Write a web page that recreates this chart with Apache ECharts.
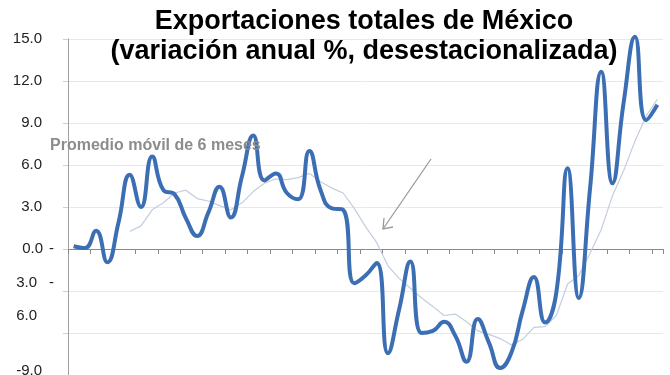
<!DOCTYPE html>
<html>
<head>
<meta charset="utf-8">
<script src="https://cdn.jsdelivr.net/npm/echarts@6/dist/echarts.min.js"></script>
<style>
  html, body { margin: 0; padding: 0; background: #fff; }
  #chart { width: 670px; height: 375px; }
</style>
</head>
<body>
<div id="chart"></div>
<script>
// periodos (las etiquetas del eje no se leen en el original)
var periods = ['1', '2', '3', '4', '5', '6', '7', '8', '9', '10', '11', '12', '13', '14', '15', '16', '17', '18',
  '19', '20', '21', '22', '23', '24', '25', '26', '27', '28', '29', '30', '31', '32', '33', '34', '35', '36',
  '37', '38', '39', '40', '41', '42', '43', '44', '45', '46', '47', '48', '49', '50', '51', '52', '53'];

// variación anual %, serie principal
var exportsYoY = [0.2, 0.07, 1.3, -0.95, 1.9, 5.3, 3.0, 6.6, 4.2, 3.9,
  2.2, 0.93, 2.6, 4.45, 2.25, 5.2, 8.1, 4.9, 5.4, 4.0,
  3.55, 7.0, 4.2, 2.9, 2.8, -2.45, -1.9, -1.0, -7.45, -4.3,
  -0.9, -6.0, -5.85, -5.2, -6.2, -8.05, -5.0, -6.7, -8.5, -7.4,
  -4.4, -2.0, -5.25, -3.1, 5.76, -3.5, 4.3, 12.66, 4.7, 10.5,
  15.16, 9.2, 10.3];

// promedio móvil de 6 meses
var movingAvg6 = [null, null, null, null, null, 1.25, 1.65, 2.8, 3.3, 4.0,
  4.2, 3.6, 3.43, 3.1, 2.8, 3.3, 4.1, 4.7, 5.0, 4.95,
  5.1, 5.4, 4.8, 4.35, 4.0, 2.9, 1.6, 0.45, -1.2, -2.1,
  -2.8, -3.5, -4.1, -4.75, -4.65, -5.2, -5.85, -6.1, -6.4, -6.85,
  -6.45, -5.6, -5.55, -4.75, -2.5, -1.9, -0.3, 1.4, 3.8, 5.6,
  7.7, 9.5, 10.7];

// etiquetas del eje Y tal como aparecen (con guiones fuera de lugar)
var yTickValues = [15, 12, 9, 6, 3, 0, -3, -6, -9];
var yTickTexts = ['15.0', '12.0', '9.0', '6.0', '3.0', '0.0', '3.0', '6.0', '-9.0'];

var FONT = '"Liberation Sans", Arial, sans-serif';

var chart = echarts.init(document.getElementById('chart'));
chart.setOption({
  animation: false,
  title: {
    text: 'Exportaciones totales de México\n(variación anual %, desestacionalizada)',
    left: 364,
    top: 7,
    textAlign: 'center',
    padding: 0,
    textStyle: {
      fontFamily: FONT,
      fontSize: 27,
      fontWeight: 'bold',
      lineHeight: 30,
      color: '#000'
    }
  },
  grid: {
    left: 68,
    right: 7,
    top: 39,
    bottom: 0,
    outerBoundsMode: 'none',
    containLabel: false
  },
  xAxis: {
    type: 'category',
    data: periods,
    boundaryGap: true,
    axisLine: { onZero: true, lineStyle: { color: '#8a8a8a', width: 1 } },
    axisTick: { show: true, interval: 1, length: 5, lineStyle: { color: '#8a8a8a' } },
    axisLabel: { show: false },
    splitLine: { show: false }
  },
  yAxis: {
    type: 'value',
    min: -9,
    max: 15,
    interval: 3,
    axisLine: { show: true, lineStyle: { color: '#a0a0a0' } },
    axisTick: { show: true, length: 5, lineStyle: { color: '#d0d0d0' } },
    splitLine: { lineStyle: { color: '#e8e8e8' } },
    axisLabel: {
      margin: 14,
      fontFamily: FONT,
      fontSize: 15,
      color: '#222',
      formatter: function (v) {
        var t = yTickTexts[yTickValues.indexOf(v)];
        if (v === 0) return '{z|' + t + '}{d|-}';
        if (v === -3) return '{m|' + t + '}{e|-}';
        if (v === -6) return '{k|' + t + '}';
        if (v === -9) return '{q|' + t + '}';
        return '{n|' + t + '}';
      },
      rich: {
        n: { fontFamily: FONT, fontSize: 15, color: '#222', padding: [0, 12, 0, 0] },
        z: { fontFamily: FONT, fontSize: 15, color: '#222', padding: [0, 6, 0, 0] },
        d: { fontFamily: FONT, fontSize: 15, color: '#222' },
        m: { fontFamily: FONT, fontSize: 15, color: '#222', padding: [0, 12, 16, 0] },
        e: { fontFamily: FONT, fontSize: 15, color: '#222', padding: [0, 0, 16, 0] },
        k: { fontFamily: FONT, fontSize: 15, color: '#222', padding: [0, 17, 34, 0] },
        q: { fontFamily: FONT, fontSize: 15, color: '#222', padding: [0, 12, 8, 0] }
      }
    }
  },
  series: [{
    name: 'Promedio móvil de 6 meses',
    type: 'line',
    data: movingAvg6,
    smooth: false,
    clip: false,
    symbol: 'none',
    lineStyle: { color: '#c2cde0', width: 1.2 },
    z: 2
  }, {
    name: 'Exportaciones totales',
    type: 'line',
    data: exportsYoY,
    smooth: 0.5,
    clip: false,
    symbol: 'none',
    lineStyle: { color: '#3c6eb4', width: 4 },
    z: 3
  }],
  graphic: [{
    type: 'text',
    left: 50,
    top: 138,
    z: 10,
    style: {
      text: 'Promedio móvil de 6 meses',
      font: 'bold 16px ' + FONT,
      fill: '#8c8c8c'
    }
  }, {
    type: 'line',
    z: 10,
    shape: { x1: 431, y1: 159, x2: 383, y2: 229 },
    style: { stroke: '#9a9a9a', lineWidth: 1.3 }
  }, {
    type: 'polyline',
    z: 10,
    shape: { points: [[384, 218], [383, 229], [393, 227]] },
    style: { stroke: '#9a9a9a', lineWidth: 1.3, fill: null }
  }]
});
</script>
</body>
</html>
